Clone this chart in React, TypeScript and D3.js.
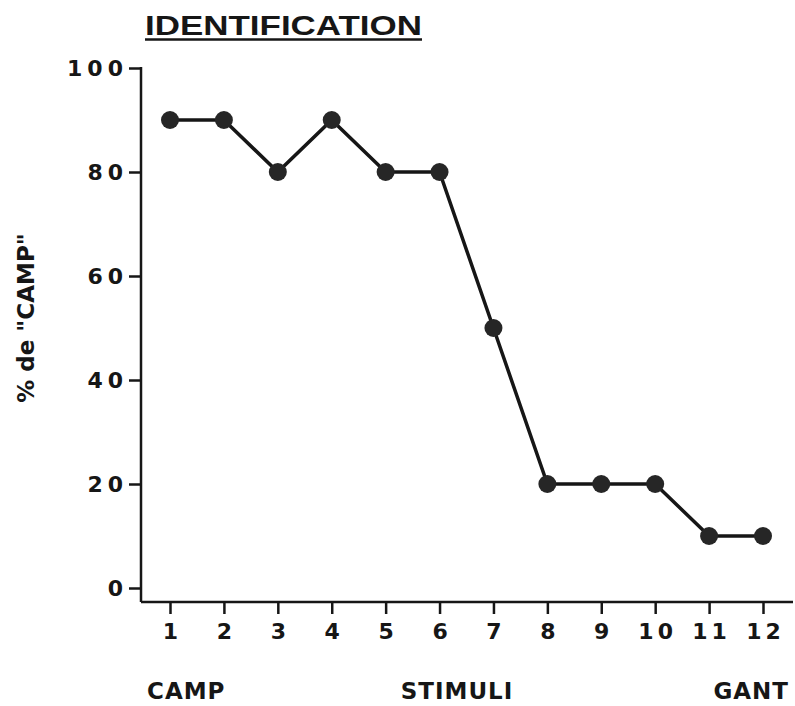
import React, { useEffect, useRef } from "react";
import * as d3 from "d3";

const stimuli = [1, 2, 3, 4, 5, 6, 7, 8, 9, 10, 11, 12];
const campPercent = [90, 90, 80, 90, 80, 80, 50, 20, 20, 20, 10, 10];
const yTicks = [0, 20, 40, 60, 80, 100];
const endLabels = ["CAMP", "STIMULI", "GANT"];

const width = 795;
const height = 706;
const ink = "#161616";
const font = "'Liberation Sans', Arial, sans-serif";
const heavy = "'DejaVu Sans', sans-serif";

export default function App() {
  const svgRef = useRef<SVGSVGElement | null>(null);

  useEffect(() => {
    document.body.style.margin = "0";
    const svg = d3.select(svgRef.current);
    svg.selectAll("*").remove();

    const x = d3.scaleLinear().domain([1, 12]).range([170, 763]);
    const y = d3.scaleLinear().domain([0, 100]).range([588, 68]);
    const axisY = 602;
    const axisX = 141;

    // title
    svg
      .append("text")
      .attr("x", 145)
      .attr("y", 35)
      .attr("font-family", font)
      .attr("font-weight", "bold")
      .attr("font-size", 28)
      .attr("textLength", 277)
      .attr("lengthAdjust", "spacingAndGlyphs")
      .attr("fill", ink)
      .text("IDENTIFICATION");
    svg
      .append("line")
      .attr("x1", 145)
      .attr("x2", 422)
      .attr("y1", 39.5)
      .attr("y2", 39.5)
      .attr("stroke", ink)
      .attr("stroke-width", 2.5);

    // axis lines
    svg
      .append("line")
      .attr("x1", axisX)
      .attr("x2", axisX)
      .attr("y1", y(100) - 1)
      .attr("y2", axisY)
      .attr("stroke", ink)
      .attr("stroke-width", 2.5);
    svg
      .append("line")
      .attr("x1", axisX)
      .attr("x2", 793)
      .attr("y1", axisY)
      .attr("y2", axisY)
      .attr("stroke", ink)
      .attr("stroke-width", 2.5);

    const yAxis = svg
      .append("g")
      .attr("transform", `translate(${axisX},0)`)
      .call(d3.axisLeft(y).tickValues(yTicks).tickSize(12).tickPadding(6));
    yAxis.select(".domain").remove();
    yAxis.selectAll(".tick line").attr("stroke", ink).attr("stroke-width", 2.5);
    yAxis
      .selectAll(".tick text")
      .attr("font-family", heavy)
      .attr("font-weight", "bold")
      .attr("font-size", 22)
      .attr("letter-spacing", 5)
      .attr("dx", 5)
      .attr("fill", ink);

    const xAxis = svg
      .append("g")
      .attr("transform", `translate(0,${axisY})`)
      .call(d3.axisBottom(x).tickValues(stimuli).tickSize(12).tickPadding(9).tickFormat(d3.format("d")));
    xAxis.select(".domain").remove();
    xAxis.selectAll(".tick line").attr("stroke", ink).attr("stroke-width", 2.5);
    xAxis
      .selectAll(".tick text")
      .attr("font-family", heavy)
      .attr("font-weight", "bold")
      .attr("font-size", 22)
      .attr("letter-spacing", 4)
      .attr("dx", 2)
      .attr("fill", ink);

    // bottom labels
    const labelPos = [
      { x: 147, anchor: "start" },
      { x: 457, anchor: "middle" },
      { x: 789, anchor: "end" },
    ];
    svg
      .selectAll(".endlab")
      .data(endLabels)
      .join("text")
      .attr("x", (_, i) => labelPos[i].x)
      .attr("y", 699)
      .attr("text-anchor", (_, i) => labelPos[i].anchor)
      .attr("font-family", heavy)
      .attr("font-weight", "bold")
      .attr("font-size", 23)
      .attr("letter-spacing", 1)
      .attr("fill", ink)
      .text((d) => d);

    // y label
    svg
      .append("text")
      .attr("transform", "translate(34,318) rotate(-90)")
      .attr("text-anchor", "middle")
      .attr("font-family", heavy)
      .attr("font-weight", "bold")
      .attr("font-size", 23)
      .attr("fill", ink)
      .text('% de "CAMP"');

    // line + markers
    const pts = stimuli.map((s, i) => ({ s, v: campPercent[i] }));
    const line = d3
      .line<{ s: number; v: number }>()
      .x((d) => x(d.s))
      .y((d) => y(d.v));
    svg
      .append("path")
      .datum(pts)
      .attr("fill", "none")
      .attr("stroke", ink)
      .attr("stroke-width", 3.5)
      .attr("d", line);
    svg
      .selectAll(".pt")
      .data(pts)
      .join("circle")
      .attr("cx", (d) => x(d.s))
      .attr("cy", (d) => y(d.v))
      .attr("r", 9)
      .attr("fill", "#262626");
  }, []);

  return <svg ref={svgRef} width={width} height={height} style={{ display: "block", background: "#fff" }} />;
}
